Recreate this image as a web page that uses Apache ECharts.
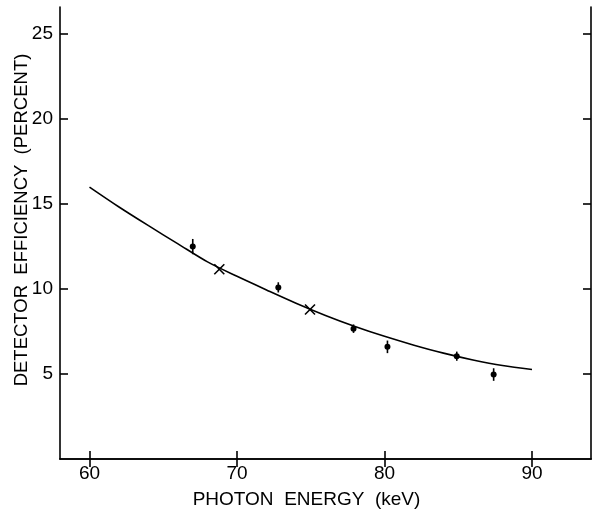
<!DOCTYPE html>
<html>
<head>
<meta charset="utf-8">
<script src="https://cdn.jsdelivr.net/npm/echarts@6/dist/echarts.min.js"></script>
<style>html,body{margin:0;padding:0;background:#fff;}#c{width:592px;height:510px;}</style>
</head>
<body>
<div id="c"></div>
<script>
// Fitted efficiency curve (keV, percent)
const curveX = [60, 62, 64, 66, 68, 70, 72, 74, 76, 78, 80, 82, 84, 86, 88, 90];
const curveY = [16.0, 14.83, 13.73, 12.66, 11.6, 10.75, 9.95, 9.17, 8.45, 7.8, 7.22, 6.7, 6.23, 5.83, 5.5, 5.27];
// Measured points with error bars
const measX = [67.0, 72.8, 77.9, 80.2, 84.9, 87.4];
const measY = [12.5, 10.1, 7.67, 6.6, 6.05, 4.97];
const measErr = [0.45, 0.3, 0.25, 0.37, 0.27, 0.37];
// Cross markers
const crossX = [68.8, 74.95];
const crossY = [11.17, 8.8];
// Tick labels
const xTicks = [60, 70, 80, 90];
const yTicks = [5, 10, 15, 20, 25];

const FONT = "'Liberation Sans', Arial, sans-serif";
const chart = echarts.init(document.getElementById('c'), null, {renderer: 'canvas'});

const axisLine = {show: true, lineStyle: {color: '#000', width: 1.6}};
const tickStyle = {show: true, inside: true, length: 8, lineStyle: {color: '#000', width: 1.6}};

chart.setOption({
  animation: false,
  backgroundColor: '#fff',
  grid: {left: 60, right: 1, top: 7, bottom: 51, containLabel: false, outerBoundsMode: 'none'},
  xAxis: [{
    type: 'value', min: 58, max: 94, position: 'bottom',
    axisLine: axisLine,
    axisTick: Object.assign({customValues: xTicks}, tickStyle),
    axisLabel: {customValues: xTicks, color: '#000', fontFamily: FONT, fontSize: 19, margin: 5},
    splitLine: {show: false},
    name: 'PHOTON  ENERGY  (keV)', nameLocation: 'middle', nameGap: 31,
    nameTextStyle: {color: '#000', fontFamily: FONT, fontSize: 19, padding: [0, 38, 0, 0]}
  }, {
    type: 'value', min: 58, max: 94, position: 'top',
    axisLine: axisLine,
    axisTick: Object.assign({customValues: xTicks}, tickStyle),
    axisLabel: {show: false}, splitLine: {show: false}
  }],
  yAxis: [{
    type: 'value', min: 0, max: 26.6, position: 'left',
    axisLine: axisLine,
    axisTick: Object.assign({customValues: yTicks}, tickStyle),
    axisLabel: {customValues: yTicks, color: '#000', fontFamily: FONT, fontSize: 19, margin: 7},
    splitLine: {show: false},
    name: 'DETECTOR  EFFICIENCY  (PERCENT)', nameLocation: 'middle', nameGap: 29,
    nameMoveOverlap: false,
    nameTextStyle: {color: '#000', fontFamily: FONT, fontSize: 18.5, padding: [0, 0, 0, 26]}
  }, {
    type: 'value', min: 0, max: 26.6, position: 'right',
    axisLine: axisLine,
    axisTick: Object.assign({customValues: yTicks}, tickStyle),
    axisLabel: {show: false}, splitLine: {show: false}
  }],
  series: [{
    type: 'line',
    data: curveX.map((x, i) => [x, curveY[i]]),
    smooth: 0.3, showSymbol: false, symbol: 'none',
    lineStyle: {color: '#000', width: 1.6}
  }, {
    type: 'custom',
    data: measX.map((x, i) => [x, measY[i], measErr[i]]),
    renderItem: function (params, api) {
      const x = api.value(0), y = api.value(1), e = api.value(2);
      const top = api.coord([x, y + e]);
      const bot = api.coord([x, y - e]);
      const c = api.coord([x, y]);
      return {
        type: 'group',
        children: [{
          type: 'line',
          shape: {x1: top[0], y1: top[1], x2: bot[0], y2: bot[1]},
          style: {stroke: '#000', lineWidth: 1.6}
        }, {
          type: 'circle',
          shape: {cx: c[0], cy: c[1], r: 3},
          style: {fill: '#000'}
        }]
      };
    }
  }, {
    type: 'custom',
    data: crossX.map((x, i) => [x, crossY[i]]),
    renderItem: function (params, api) {
      const c = api.coord([api.value(0), api.value(1)]);
      const s = 5;
      return {
        type: 'group',
        children: [{
          type: 'line',
          shape: {x1: c[0] - s, y1: c[1] - s, x2: c[0] + s, y2: c[1] + s},
          style: {stroke: '#000', lineWidth: 1.6}
        }, {
          type: 'line',
          shape: {x1: c[0] - s, y1: c[1] + s, x2: c[0] + s, y2: c[1] - s},
          style: {stroke: '#000', lineWidth: 1.6}
        }]
      };
    }
  }]
});
</script>
</body>
</html>
